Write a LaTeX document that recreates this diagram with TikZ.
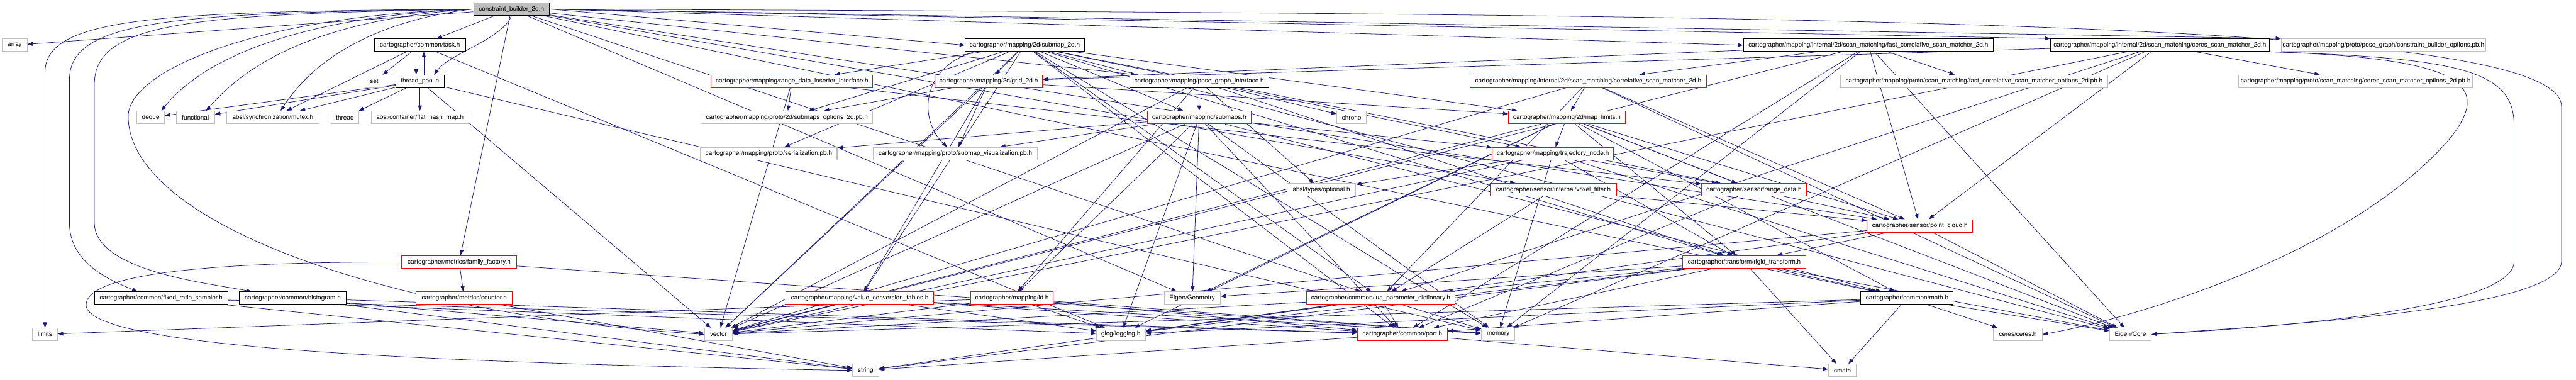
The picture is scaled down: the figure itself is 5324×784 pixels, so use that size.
\documentclass[tikz,border=0pt]{standalone}
\usepackage{fontspec}
\setmainfont{TeX Gyre Heros}
\usetikzlibrary{arrows.meta,backgrounds}
\definecolor{edgeblue}{RGB}{25,25,112}
\definecolor{extgray}{RGB}{191,191,191}
\tikzset{
  hdr/.style={draw,rectangle,minimum height=26pt,inner xsep=2pt,inner ysep=0pt,line width=1.4pt,fill=white,font=\fontsize{13}{15}\selectfont},
  docblk/.style={hdr,draw=black},
  cutblk/.style={hdr,draw=red},
  extblk/.style={hdr,draw=extgray},
  rootblk/.style={hdr,draw=black,fill=extgray},
  arr/.style={-{Triangle[length=11pt,width=8pt]},edgeblue,line width=1pt}
}
\begin{document}
\begin{tikzpicture}[x=1pt,y=-1pt]
  \useasboundingbox (0,0) rectangle (5324,784);

  \node[rootblk,minimum width=156pt] (root) at (1057,18.7) {constraint\_builder\_2d.h};

  \node[extblk,minimum width=51pt] (array) at (30.5,93.3) {array};
  \node[docblk,minimum width=188pt] (task) at (868,93.3) {cartographer/common/task.h};
  \node[docblk,minimum width=246pt] (submap) at (2118,93.3) {cartographer/mapping/2d/submap\_2d.h};
  \node[docblk,minimum width=517pt] (fastcsm) at (3861.5,93.3) {cartographer/mapping/internal/2d/scan\_matching/fast\_correlative\_scan\_matcher\_2d.h};
  \node[docblk,minimum width=452pt] (cerescsm) at (4464,93.3) {cartographer/mapping/internal/2d/scan\_matching/ceres\_scan\_matcher\_2d.h};
  \node[extblk,minimum width=422pt] (cbopts) at (4926,93.3) {cartographer/mapping/proto/pose\_graph/constraint\_builder\_options.pb.h};

  \node[extblk,minimum width=39pt] (set) at (773.5,168) {set};
  \node[docblk,minimum width=100pt] (pool) at (868,168) {thread\_pool.h};
  \node[cutblk,minimum width=334pt] (inserter) at (1637,168) {cartographer/mapping/range\_data\_inserter\_interface.h};
  \node[cutblk,minimum width=223pt] (grid) at (2043.5,168) {cartographer/mapping/2d/grid\_2d.h};
  \node[docblk,minimum width=287pt] (posegraph) at (2478.5,168) {cartographer/mapping/pose\_graph\_interface.h};
  \node[cutblk,minimum width=489pt] (corrcsm) at (3282.5,168) {cartographer/mapping/internal/2d/scan\_matching/correlative\_scan\_matcher\_2d.h};
  \node[extblk,minimum width=552pt] (fastopts) at (4080,168) {cartographer/mapping/proto/scan\_matching/fast\_correlative\_scan\_matcher\_options\_2d.pb.h};
  \node[extblk,minimum width=483pt] (ceresopts) at (4868.5,168) {cartographer/mapping/proto/scan\_matching/ceres\_scan\_matcher\_options\_2d.pb.h};

  \node[extblk,minimum width=57pt] (deque) at (311.5,242.7) {deque};
  \node[extblk,minimum width=79pt] (functional) at (404,242.7) {functional};
  \node[extblk,minimum width=192pt] (mutex) at (564,242.7) {absl/synchronization/mutex.h};
  \node[extblk,minimum width=58pt] (thread) at (713,242.7) {thread};
  \node[extblk,minimum width=202pt] (hashmap) at (868,242.7) {absl/container/flat\_hash\_map.h};
  \node[extblk,minimum width=355pt] (submapopts) at (1626.5,242.7) {cartographer/mapping/proto/2d/submaps\_options\_2d.pb.h};
  \node[cutblk,minimum width=215pt] (submaps) at (2478.5,242.7) {cartographer/mapping/submaps.h};
  \node[extblk,minimum width=61pt] (chrono) at (2793.5,242.7) {chrono};
  \node[cutblk,minimum width=241pt] (limits2d) at (3238.5,242.7) {cartographer/mapping/2d/map\_limits.h};

  \node[extblk,minimum width=282pt] (serial) at (1589,317.3) {cartographer/mapping/proto/serialization.pb.h};
  \node[extblk,minimum width=339pt] (visual) at (1974.5,317.3) {cartographer/mapping/proto/submap\_visualization.pb.h};
  \node[cutblk,minimum width=251pt] (trajnode) at (3209.5,317.3) {cartographer/mapping/trajectory\_node.h};

  \node[extblk,minimum width=142pt] (optional) at (2731,392) {absl/types/optional.h};
  \node[cutblk,minimum width=261pt] (voxel) at (3210.5,392) {cartographer/sensor/internal/voxel\_filter.h};
  \node[cutblk,minimum width=216pt] (rangedata) at (3625,392) {cartographer/sensor/range\_data.h};

  \node[cutblk,minimum width=218pt] (cloud) at (3968,466.7) {cartographer/sensor/point\_cloud.h};

  \node[cutblk,minimum width=238pt] (family) at (949,541.3) {cartographer/metrics/family\_factory.h};
  \node[cutblk,minimum width=254pt] (rigid) at (3605,541.3) {cartographer/transform/rigid\_transform.h};

  \node[docblk,minimum width=276pt] (sampler) at (333,616) {cartographer/common/fixed\_ratio\_sampler.h};
  \node[docblk,minimum width=220pt] (histo) at (605,616) {cartographer/common/histogram.h};
  \node[cutblk,minimum width=199pt] (counter) at (959.5,616) {cartographer/metrics/counter.h};
  \node[cutblk,minimum width=305pt] (valconv) at (1777,616) {cartographer/mapping/value\_conversion\_tables.h};
  \node[cutblk,minimum width=171pt] (mapid) at (2091.5,616) {cartographer/mapping/id.h};
  \node[extblk,minimum width=116pt] (geometry) at (2464,616) {Eigen/Geometry};
  \node[cutblk,minimum width=307pt] (luadict) at (2853.5,616) {cartographer/common/lua\_parameter\_dictionary.h};
  \node[docblk,minimum width=191pt] (mathh) at (3941.5,616) {cartographer/common/math.h};

  \node[extblk,minimum width=52pt] (limits) at (93,690.7) {limits};
  \node[extblk,minimum width=58pt] (vector) at (1485,690.7) {vector};
  \node[extblk,minimum width=101pt] (glog) at (2316.5,690.7) {glog/logging.h};
  \node[cutblk,minimum width=185pt] (port) at (2898.5,690.7) {cartographer/common/port.h};
  \node[extblk,minimum width=69pt] (memory) at (3096.5,690.7) {memory};
  \node[extblk,minimum width=101pt] (ceres) at (4170.5,690.7) {ceres/ceres.h};
  \node[extblk,minimum width=86pt] (core) at (4403,690.7) {Eigen/Core};

  \node[extblk,minimum width=54pt] (string) at (1789,765.3) {string};
  \node[extblk,minimum width=58pt] (cmath) at (3808,765.3) {cmath};

  \begin{scope}[on background layer]
  \draw[arr] (root) -- (array);
  \draw[arr] (root.west) .. controls (320,24) and (93,36) .. (93,150) -- (limits.north);
  \draw[arr] (root.west) .. controls (360,27) and (143.5,40) .. (143.5,165) -- (143.5,460) .. controls (143.5,545) and (230,580) .. ([xshift=-49pt]sampler.north);
  \draw[arr] (root.west) .. controls (400,30) and (195,44) .. (195,175) -- (195,460) .. controls (195,560) and (430,585) .. ([xshift=-85pt]histo.north);
  \draw[arr] (root.west) .. controls (520,32) and (265,150) .. (265,240) .. controls (265,460) and (800,650) .. (vector.west);
  \draw[arr] (root.west) .. controls (620,34) and (420,120) .. ([xshift=22pt]deque.north);
  \draw[arr] (root.west) .. controls (680,38) and (520,120) .. ([xshift=22pt]functional.north);
  \draw[arr] (root.west) .. controls (780,42) and (650,120) .. ([xshift=16pt]mutex.north);
  \draw[arr] (root) -- (task);
  \draw[arr] (root.south) .. controls (1040,80) and (930,110) .. ([xshift=29pt]pool.north);
  \draw[arr] (root) -- (family);
  \draw[arr] (root.east) -- (submap.west);
  \draw[arr] (root) -- (posegraph);
  \draw[arr] (root.east) -- (fastcsm.west);
  \draw[arr] (root.east) -- (cerescsm.north west);
  \draw[arr] (root.east) -- (cbopts.north west);
  \draw[arr] (root.east) .. controls (3800,30) and (5294,40) .. (5294,220) -- (5294,540) .. controls (5294,640) and (4700,672) .. (core.east);
  \draw[arr] (root) -- (geometry);
  \draw[arr] (root) -- (luadict);
  \draw[arr] (root) -- (mathh);
  \draw[arr] (root) -- (voxel);
  \draw[arr] (root) -- (cloud);

  \draw[arr] (task) -- (set);
  \draw[arr] (task) -- (mutex);
  \draw[arr] (task) -- (glog);
  \draw[arr] ([xshift=-8pt]task.south) -- ([xshift=-8pt]pool.north);

  \draw[arr] ([xshift=8pt]pool.north) -- ([xshift=8pt]task.south);
  \draw[arr] (pool) -- (deque);
  \draw[arr] (pool) -- (functional);
  \draw[arr] (pool) -- (mutex);
  \draw[arr] (pool) -- (thread);
  \draw[arr] (pool) -- (hashmap);
  \draw[arr] (pool) -- (memory);
  \draw[arr] (pool) -- (vector);

  \draw[arr] (submap) -- (grid);
  \draw[arr] (submap) -- (limits2d);
  \draw[arr] (submap) -- (submapopts);
  \draw[arr] (submap) -- (serial);
  \draw[arr] ([xshift=20pt]submap.south west) .. controls (1900,140) and (1900,250) .. ([xshift=-17pt]visual.north);
  \draw[arr] (submap) -- (inserter);
  \draw[arr] (submap) -- (submaps);
  \draw[arr] (submap) -- (trajnode);
  \draw[arr] (submap) -- (valconv);
  \draw[arr] (submap) -- (rangedata);
  \draw[arr] (submap) -- (rigid);
  \draw[arr] (submap) -- (luadict);
  \draw[arr] (submap) -- (port);
  \draw[arr] (submap) -- (core);
  \draw[arr] (submap) -- (memory);
  \draw[arr] (submap) -- (vector);

  \draw[arr] (fastcsm) -- (grid);
  \draw[arr] (fastcsm) -- (corrcsm);
  \draw[arr] (fastcsm) -- (fastopts);
  \draw[arr] (fastcsm) -- (cloud);
  \draw[arr] (fastcsm) -- (port);
  \draw[arr] (fastcsm) -- (core);
  \draw[arr] (fastcsm) -- (memory);
  \draw[arr] (fastcsm) -- (vector);

  \draw[arr] (cerescsm) -- (grid);
  \draw[arr] (cerescsm) -- (ceresopts);
  \draw[arr] (cerescsm) -- (cloud);
  \draw[arr] (cerescsm) -- (luadict);
  \draw[arr] (cerescsm) -- (memory);
  \draw[arr] (cerescsm) -- (vector);
  \draw[arr] (cerescsm.south east) .. controls (5080,120) and (5160,170) .. (5060,290) .. controls (4850,530) and (4400,660) .. (ceres.east);
  \draw[arr] (cerescsm.south east) .. controls (5100,120) and (5196,150) .. (5196,260) -- (5196,540) .. controls (5196,640) and (4700,676) .. (core.east);

  \draw[arr] (posegraph) -- (chrono);
  \draw[arr] (posegraph) -- (vector);
  \draw[arr] (posegraph) -- (optional);
  \draw[arr] (posegraph) -- (mapid);
  \draw[arr] (posegraph) -- (submaps);
  \draw[arr] (posegraph) -- (rigid);

  \draw[arr] (corrcsm) -- (limits2d);
  \draw[arr] (corrcsm) -- (luadict);
  \draw[arr] (corrcsm) -- (cloud);
  \draw[arr] (corrcsm) -- (core);
  \draw[arr] (corrcsm) -- (vector);

  \draw[arr] (grid) -- (limits2d);
  \draw[arr] (grid) -- (visual);
  \draw[arr] (grid) -- (valconv);
  \draw[arr] (grid) -- (submapopts);
  \draw[arr] (grid) -- (vector);

  \draw[arr] (inserter) -- (submapopts);
  \draw[arr] (inserter) -- (rangedata);
  \draw[arr] (inserter) -- (vector);

  \draw[arr] (submaps) -- (geometry);
  \draw[arr] (submaps) -- (mathh);
  \draw[arr] (submaps) -- (port);
  \draw[arr] (submaps) -- (mapid);
  \draw[arr] (submaps) -- (serial);
  \draw[arr] (submaps) -- (visual);
  \draw[arr] (submaps) -- (trajnode);
  \draw[arr] (submaps) -- (glog);
  \draw[arr] (submaps) -- (memory);
  \draw[arr] (submaps) -- (vector);

  \draw[arr] (limits2d) -- (trajnode);
  \draw[arr] (limits2d) -- (cloud);
  \draw[arr] (limits2d) -- (rangedata);
  \draw[arr] (limits2d) -- (rigid);
  \draw[arr] (limits2d) -- (mathh);
  \draw[arr] (limits2d) -- (geometry);
  \draw[arr] (limits2d) -- (core);
  \draw[arr] (limits2d) -- (glog);
  \draw[arr] (limits2d) -- (vector);

  \draw[arr] (trajnode) -- (optional);
  \draw[arr] (trajnode) -- (rangedata);
  \draw[arr] (trajnode) -- (rigid);
  \draw[arr] (trajnode) -- (core);
  \draw[arr] (trajnode) -- (memory);
  \draw[arr] (trajnode) -- (vector);

  \draw[arr] (voxel) -- (luadict);
  \draw[arr] (voxel) -- (cloud);

  \draw[arr] (rangedata) -- (cloud);
  \draw[arr] (rangedata) -- (port);

  \draw[arr] (cloud) -- (rigid);
  \draw[arr] (cloud) -- (core);
  \draw[arr] (cloud) -- (glog);
  \draw[arr] (cloud) -- (vector);

  \draw[arr] (rigid) -- (cmath);
  \draw[arr] (rigid) -- (mathh);
  \draw[arr] (rigid) -- (core);
  \draw[arr] (rigid) -- (geometry);
  \draw[arr] (rigid) -- (luadict);
  \draw[arr] (rigid) -- (port);
  \draw[arr] (rigid) -- (glog);
  \draw[arr] (rigid) -- (string);

  \draw[arr] (family) -- (counter);
  \draw[arr] (family) -- (memory);
  \draw[arr] (family.west) .. controls (400,541) and (178,570) .. (178,630) .. controls (178,720) and (900,750) .. (string.west);

  \draw[arr] (sampler) -- (string);
  \draw[arr] (sampler) -- (port);
  \draw[arr] (sampler) -- (glog);
  \draw[arr] (histo) -- (string);
  \draw[arr] (histo) -- (vector);
  \draw[arr] (histo) -- (port);
  \draw[arr] (counter) -- (string);

  \draw[arr] (valconv) -- (vector);
  \draw[arr] (valconv) -- (glog);
  \draw[arr] (valconv) -- (port);
  \draw[arr] (valconv) -- (memory);

  \draw[arr] (mapid) -- (limits);
  \draw[arr] (mapid) -- (memory);
  \draw[arr] (mapid) -- (vector);
  \draw[arr] (mapid) -- (port);
  \draw[arr] (mapid) -- (glog);

  \draw[arr] (luadict) -- (memory);
  \draw[arr] (luadict) -- (port);
  \draw[arr] (luadict) -- (string);
  \draw[arr] (luadict) -- (vector);
  \draw[arr] (luadict) -- (glog);

  \draw[arr] (mathh) -- (cmath);
  \draw[arr] (mathh) -- (ceres);
  \draw[arr] (mathh) -- (core);
  \draw[arr] (mathh) -- (port);
  \draw[arr] (mathh) -- (glog);
  \draw[arr] (mathh) -- (vector);

  \draw[arr] (port) -- (cmath);
  \draw[arr] (port) -- (string);
  \end{scope}
\end{tikzpicture}
\end{document}
